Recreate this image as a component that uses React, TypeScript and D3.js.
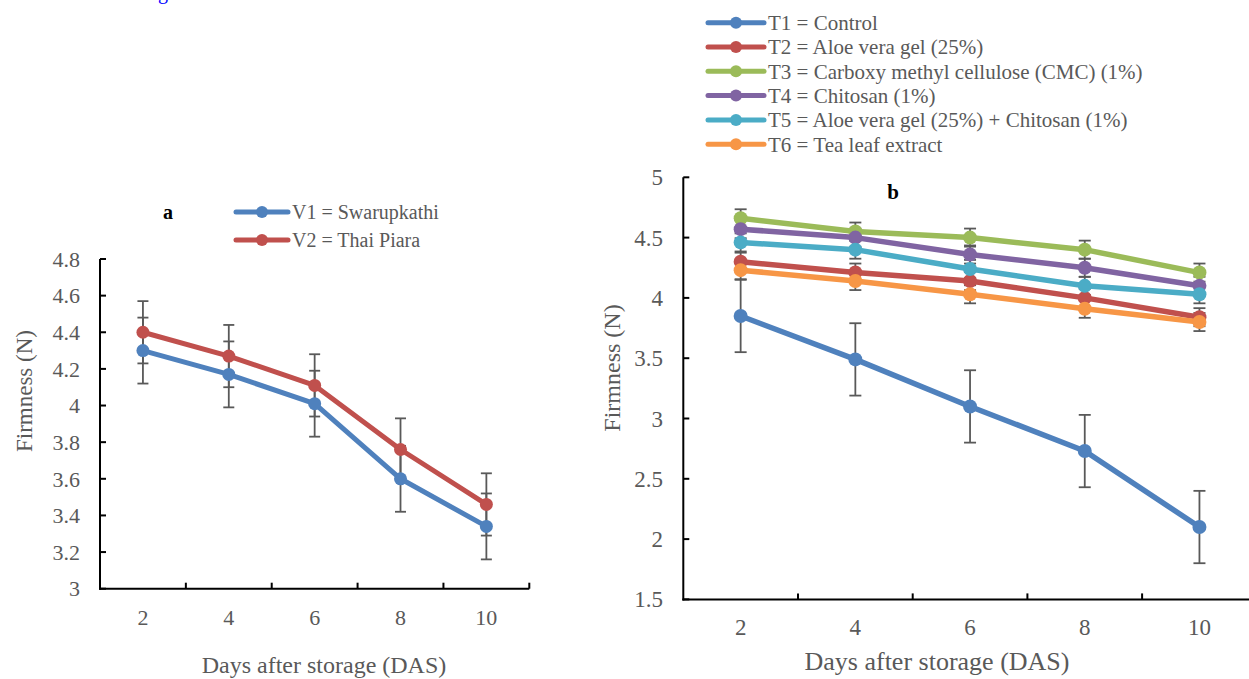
import React from 'react';
import * as d3 from 'd3';

// days after storage
const days = [2, 4, 6, 8, 10];

// panel a - varieties
const varietyNames = ['V1 = Swarupkathi', 'V2 = Thai Piara'];
const v1 = [4.30, 4.17, 4.01, 3.60, 3.34];
const v2 = [4.40, 4.27, 4.11, 3.76, 3.46];
const v1Err = [0.18, 0.18, 0.18, 0.18, 0.18];
const v2Err = [0.17, 0.17, 0.17, 0.17, 0.17];
const ticksA = [3, 3.2, 3.4, 3.6, 3.8, 4, 4.2, 4.4, 4.6, 4.8];

// panel b - treatments
const treatmentNames = [
  'T1 = Control',
  'T2 = Aloe vera gel (25%)',
  'T3 = Carboxy methyl cellulose (CMC) (1%)',
  'T4 = Chitosan (1%)',
  'T5 = Aloe vera gel (25%) + Chitosan (1%)',
  'T6 = Tea leaf extract',
];
const t1 = [3.85, 3.49, 3.10, 2.73, 2.10];
const t2 = [4.30, 4.21, 4.14, 4.00, 3.84];
const t3 = [4.66, 4.55, 4.50, 4.40, 4.21];
const t4 = [4.57, 4.50, 4.36, 4.25, 4.10];
const t5 = [4.46, 4.40, 4.24, 4.10, 4.03];
const t6 = [4.23, 4.14, 4.03, 3.91, 3.80];
const t1Err = [0.30, 0.30, 0.30, 0.30, 0.30];
const tErr = [0.075, 0.075, 0.075, 0.075, 0.075];
const ticksB = [1.5, 2, 2.5, 3, 3.5, 4, 4.5, 5];

const colors = ['#4F81BD', '#C0504D', '#9BBB59', '#8064A2', '#4BACC6', '#F79646'];
const grey = '#595959';
const serif = { fontFamily: "'Liberation Serif', 'Times New Roman', 'DejaVu Serif', serif" };

type Series = { name: string; values: number[]; err: number[]; color: string };

const seriesA: Series[] = [
  { name: varietyNames[0], values: v1, err: v1Err, color: colors[0] },
  { name: varietyNames[1], values: v2, err: v2Err, color: colors[1] },
];

const seriesB: Series[] = [t1, t2, t3, t4, t5, t6].map((values, i) => ({
  name: treatmentNames[i],
  values,
  err: i === 0 ? t1Err : tErr,
  color: colors[i],
}));

type PanelProps = {
  series: Series[];
  x0: number; x1: number; y0: number; y1: number;
  domain: [number, number];
  ticks: number[];
  fmt: (v: number) => string;
  lineW: number; r: number; cap: number;
  tickFont: number; tickLabelX: number; xLabelY: number;
  titleX: number; titleY: number; titleFont: number;
  yTitleX: number; yTitleY: number; yTitleFont: number;
};

const Panel = (p: PanelProps) => {
  const x = d3.scaleBand<number>().domain(days).range([p.x0, p.x1]).padding(0);
  const y = d3.scaleLinear().domain(p.domain).range([p.y0, p.y1]);
  const cx = (d: number) => (x(d) as number) + x.bandwidth() / 2;
  const line = d3.line<number>().x((_, i) => cx(days[i])).y(v => y(v));
  const bounds = days.map(d => x(d) as number).concat([p.x1]);

  return (
    <g>
      {/* error bars behind the lines */}
      {p.series.map(s => (
        <g key={'e' + s.name} stroke={grey} strokeWidth={1.8}>
          {s.values.map((v, i) => {
            const xx = cx(days[i]);
            const hi = y(v + s.err[i]);
            const lo = y(v - s.err[i]);
            return (
              <g key={i}>
                <line x1={xx} x2={xx} y1={hi} y2={lo} />
                <line x1={xx - p.cap} x2={xx + p.cap} y1={hi} y2={hi} />
                <line x1={xx - p.cap} x2={xx + p.cap} y1={lo} y2={lo} />
              </g>
            );
          })}
        </g>
      ))}
      {p.series.map(s => (
        <g key={'s' + s.name}>
          <path d={line(s.values) || ''} fill="none" stroke={s.color} strokeWidth={p.lineW} strokeLinejoin="round" />
          {s.values.map((v, i) => (
            <circle key={i} cx={cx(days[i])} cy={y(v)} r={p.r} fill={s.color} />
          ))}
        </g>
      ))}
      {/* axes */}
      <g stroke="#000" strokeWidth={2}>
        <line x1={p.x0} x2={p.x0} y1={y(p.domain[1])} y2={p.y0 + 1} />
        <line x1={p.x0 - 1} x2={p.x1} y1={p.y0} y2={p.y0} />
        {p.ticks.map(t => (
          <line key={t} x1={p.x0} x2={p.x0 + 6} y1={y(t)} y2={y(t)} />
        ))}
        {bounds.slice(1).map((b, i) => (
          <line key={i} x1={b} x2={b} y1={p.y0} y2={p.y0 - 6} />
        ))}
      </g>
      <g fill={grey} style={serif} fontSize={p.tickFont}>
        {p.ticks.map(t => (
          <text key={t} x={p.tickLabelX} y={y(t)} dy="0.35em" textAnchor="end">{p.fmt(t)}</text>
        ))}
        {days.map(d => (
          <text key={d} x={cx(d)} y={p.xLabelY} textAnchor="middle">{d}</text>
        ))}
      </g>
      <text x={p.titleX} y={p.titleY} fill={grey} style={serif} fontSize={p.titleFont} textAnchor="middle">
        Days after storage (DAS)
      </text>
      <text
        transform={`translate(${p.yTitleX},${p.yTitleY}) rotate(-90)`}
        fill={grey} style={serif} fontSize={p.yTitleFont} textAnchor="middle" dy="0.35em"
      >
        Firmness (N)
      </text>
    </g>
  );
};

const Legend = ({ series, x, y, gap, len, fontSize }: { series: Series[]; x: number; y: number; gap: number; len: number; fontSize: number }) => (
  <g>
    {series.map((s, i) => (
      <g key={s.name} transform={`translate(${x},${y + i * gap})`}>
        <line x1={0} x2={len} y1={0} y2={0} stroke={s.color} strokeWidth={5} strokeLinecap="round" />
        <circle cx={len / 2} cy={0} r={6} fill={s.color} />
        <text x={len + 4} y={0} dy="0.35em" fill={grey} style={serif} fontSize={fontSize}>{s.name}</text>
      </g>
    ))}
  </g>
);

const App = () => {
  const fmtA = (v: number) => (v === 3 || v === 4 ? String(v) : v.toFixed(1));
  const fmtB = (v: number) => String(v);
  return (
    <div style={{ position: 'fixed', left: 0, top: 0 }}>
      <svg width={1249} height={679} style={{ display: 'block', background: '#fff' }}>
        <text x={158} y={-1} fill="#0000ff" style={serif} fontSize={20}>g</text>

        {/* panel a */}
        <Panel
          series={seriesA}
          x0={100} x1={529.3} y0={588.7} y1={259}
          domain={[3, 4.8]} ticks={ticksA} fmt={fmtA}
          lineW={5} r={6.5} cap={5.5}
          tickFont={22} tickLabelX={80} xLabelY={625}
          titleX={324} titleY={673} titleFont={24}
          yTitleX={24} yTitleY={391} yTitleFont={23}
        />
        <text x={168} y={219} style={serif} fontSize={20} fontWeight="bold" textAnchor="middle">a</text>
        <Legend series={seriesA} x={236} y={212} gap={28} len={52} fontSize={20} />

        {/* panel b */}
        <Panel
          series={seriesB}
          x0={683.3} x1={683.3 + 5 * 114.7} y0={599.4} y1={177.3}
          domain={[1.5, 5]} ticks={ticksB} fmt={fmtB}
          lineW={5.5} r={7} cap={6}
          tickFont={23} tickLabelX={663} xLabelY={635}
          titleX={937} titleY={670} titleFont={26}
          yTitleX={612} yTitleY={368} yTitleFont={24}
        />
        <text x={893} y={199} style={serif} fontSize={21} fontWeight="bold" textAnchor="middle">b</text>
        <Legend series={seriesB} x={708} y={22.7} gap={24.3} len={56} fontSize={21} />
      </svg>
    </div>
  );
};

export default App;
